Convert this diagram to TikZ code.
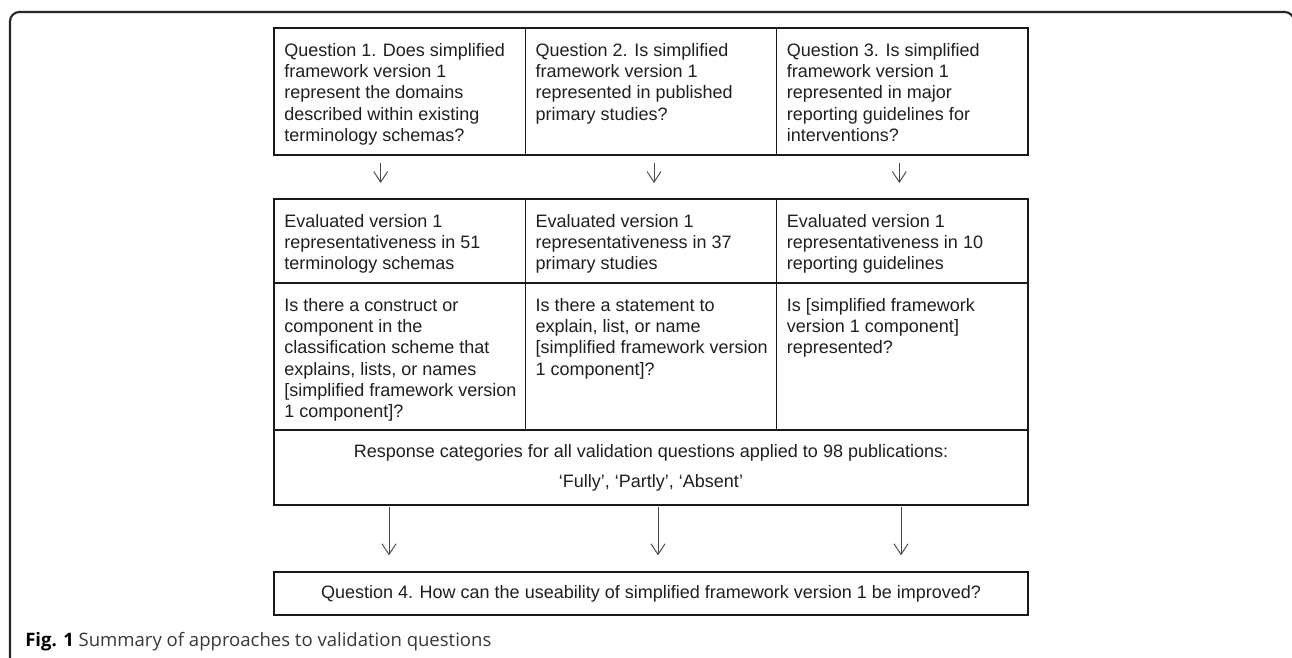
\documentclass[tikz,border=0pt]{standalone}
\usepackage{fontspec}
\setmainfont{Liberation Sans}
\newfontfamily\capfont{Open Sans}
\usetikzlibrary{arrows.meta,positioning}
\newcommand{\cellfont}{\fontsize{13.5}{16}\selectfont}

\begin{document}
\begin{tikzpicture}[x=0.75pt, y=-0.75pt,
		cell/.style={draw=black!90, line width=0.9pt, anchor=north west, inner sep=0pt, outer sep=0pt, minimum width=188.5pt},
		txt/.style={anchor=north west, align=left, inner sep=0pt, font=\cellfont, text=black!88},
		arr/.style={draw=black!72, line width=0.7pt, -{Straight Barb[length=8pt,width=10.5pt]}}]
			%%%%% START %%%%%
			
			\useasboundingbox (0,0) rectangle (1292,657);
			\clip (0,0) rectangle (1292,657);
			\draw[line width=1.6pt, color=black!85, rounded corners=7pt] (10,12) rectangle (1294,700);
			
			% questions 1-3
			\node[cell, minimum height=95.25pt] (q1) at (274,28) {};
			\node[cell, minimum height=95.25pt] (q2) at (q1.north east) {};
			\node[cell, minimum height=95.25pt] (q3) at (q2.north east) {};
			\node[txt] (q1t) at ([shift={(10,15)}]q1.north west) {Question 1. Does simplified\\framework version 1\\represent the domains\\described within existing\\terminology schemas?};
			\node[txt] (q2t) at ([shift={(10,15)}]q2.north west) {Question 2. Is simplified\\framework version 1\\represented in published\\primary studies?};
			\node[txt] (q3t) at ([shift={(10,15)}]q3.north west) {Question 3. Is simplified\\framework version 1\\represented in major\\reporting guidelines for\\interventions?};
			
			% evaluated
			\node[cell, minimum height=63pt] (e1) at (274,199) {};
			\node[cell, minimum height=63pt] (e2) at (e1.north east) {};
			\node[cell, minimum height=63pt] (e3) at (e2.north east) {};
			\node[txt] (e1t) at ([shift={(10,15)}]e1.north west) {Evaluated version 1\\representativeness in 51\\terminology schemas};
			\node[txt] (e2t) at ([shift={(10,15)}]e2.north west) {Evaluated version 1\\representativeness in 37\\primary studies};
			\node[txt] (e3t) at ([shift={(10,15)}]e3.north west) {Evaluated version 1\\representativeness in 10\\reporting guidelines};
			
			% check questions
			\node[cell, minimum height=110.25pt] (c1) at (e1.south west) {};
			\node[cell, minimum height=110.25pt] (c2) at (c1.north east) {};
			\node[cell, minimum height=110.25pt] (c3) at (c2.north east) {};
			\node[txt] (c1t) at ([shift={(10,15)}]c1.north west) {Is there a construct or\\component in the\\classification scheme that\\explains, lists, or names\\{[}simplified framework version\\1 component{]}?};
			\node[txt] (c2t) at ([shift={(10,15)}]c2.north west) {Is there a statement to\\explain, list, or name\\{[}simplified framework version\\1 component{]}?};
			\node[txt] (c3t) at ([shift={(10,15)}]c3.north west) {Is {[}simplified framework\\version 1 component{]}\\represented?};
			
			% responses
			\node[cell, minimum width=565.5pt, minimum height=56.25pt] (resp) at (c1.south west) {};
			\node[txt, anchor=center] (resp1) at ([shift={(0,23)}]resp.north) {Response categories for all validation questions applied to 98 publications:};
			\node[txt, anchor=center] (resp2) at ([shift={(0,53)}]resp.north) {`Fully', `Partly', `Absent'};
			
			% question 4
			\node[cell, minimum width=565.5pt, minimum height=32.25pt] (q4) at (274,572) {};
			\node[txt, anchor=center] (q4t) at (q4.center) {Question 4. How can the useability of simplified framework version 1 be improved?};
			
			\draw[arr, shorten <=6pt, shorten >=12pt] ([shift={(-19,0)}]q1.south) -- ([shift={(-19,0)}]q1.south |- e1.north);
			\draw[arr, shorten <=6pt, shorten >=12pt] ([shift={(3,0)}]q2.south) -- ([shift={(3,0)}]q2.south |- e2.north);
			\draw[arr, shorten <=6pt, shorten >=12pt] ([shift={(-3,0)}]q3.south) -- ([shift={(-3,0)}]q3.south |- e3.north);
			
			\draw[arr, shorten <=1.5pt, shorten >=12.5pt] ([shift={(-262,0)}]resp.south) -- ([shift={(-262,0)}]q4.north);
			\draw[arr, shorten <=1.5pt, shorten >=12.5pt] ([shift={(7,0)}]resp.south) -- ([shift={(7,0)}]q4.north);
			\draw[arr, shorten <=1.5pt, shorten >=12.5pt] ([shift={(250,0)}]resp.south) -- ([shift={(250,0)}]q4.north);
			
			\node[anchor=base west, inner sep=0pt, text=black!78, font=\capfont\fontsize{13.9}{16}\selectfont] (cap) at (25,646) {\textcolor{black}{\textbf{Fig. 1}} Summary of approaches to validation questions};
			
			%%%%% END %%%%%
\end{tikzpicture}
\end{document}
